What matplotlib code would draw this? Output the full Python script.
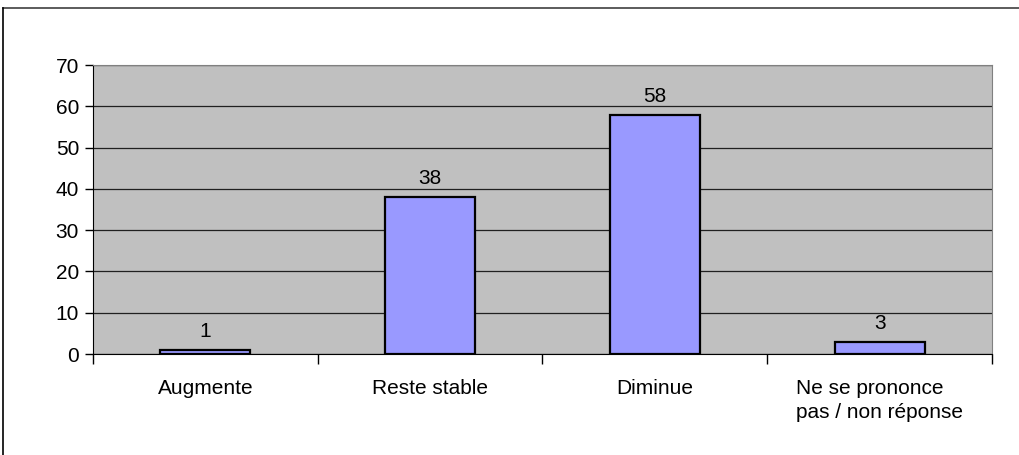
import matplotlib

matplotlib.use("Agg")
import matplotlib.pyplot as plt
from matplotlib.lines import Line2D
import numpy as np

categories = ["Augmente", "Reste stable", "Diminue", "Ne se prononce\npas / non réponse"]
values = [1, 38, 58, 3]
yticks = [0, 10, 20, 30, 40, 50, 60, 70]

plt.rcParams["font.family"] = ["Liberation Sans", "DejaVu Sans"]
FS = 15

fig = plt.figure(figsize=(10.2, 4.55), dpi=100)
ax = fig.add_axes([93 / 1020, 1 - 354 / 455, 899 / 1020, 289 / 455])
ax.set_facecolor("#C0C0C0")

x = np.arange(len(categories))
ax.bar(x, values, width=0.4, color="#9999FF", edgecolor="black", linewidth=1.6, zorder=3)
for xi, v in zip(x, values):
    ax.text(xi, v + 2.1, str(v), ha="center", va="bottom", fontsize=FS, zorder=4)

ax.set_xlim(-0.5, len(categories) - 0.5)
ax.set_ylim(0, 70)
ax.set_yticks(yticks)
ax.yaxis.grid(True, color="#202020", linewidth=0.9, zorder=1)
ax.set_axisbelow(True)
ax.tick_params(axis="y", labelsize=FS, length=6, direction="out", width=1, pad=4)

ax.set_xticks(np.arange(len(categories) + 1) - 0.5)
ax.set_xticklabels([])
ax.tick_params(axis="x", length=7, direction="out", width=1)
ax.set_xticks(x, minor=True)
ax.set_xticklabels(categories, minor=True, fontsize=FS, linespacing=1.3)
ax.tick_params(axis="x", which="minor", length=0, pad=18)
for lbl in ax.get_xticklabels(minor=True):
    lbl.set_verticalalignment("top")
    lbl.set_multialignment("left")

ax.spines["top"].set_color("#808080")
ax.spines["right"].set_color("#808080")
ax.spines["left"].set_color("black")
ax.spines["bottom"].set_color("black")

# outer chart frame (top and left visible)
fig.add_artist(Line2D([3 / 1020, 1.0], [1 - 8 / 455, 1 - 8 / 455], color="#404040", lw=1.2,
                      transform=fig.transFigure))
fig.add_artist(Line2D([3 / 1020, 3 / 1020], [0, 1 - 8 / 455], color="black", lw=1.2,
                      transform=fig.transFigure))

fig.savefig("out.png", dpi=100)
